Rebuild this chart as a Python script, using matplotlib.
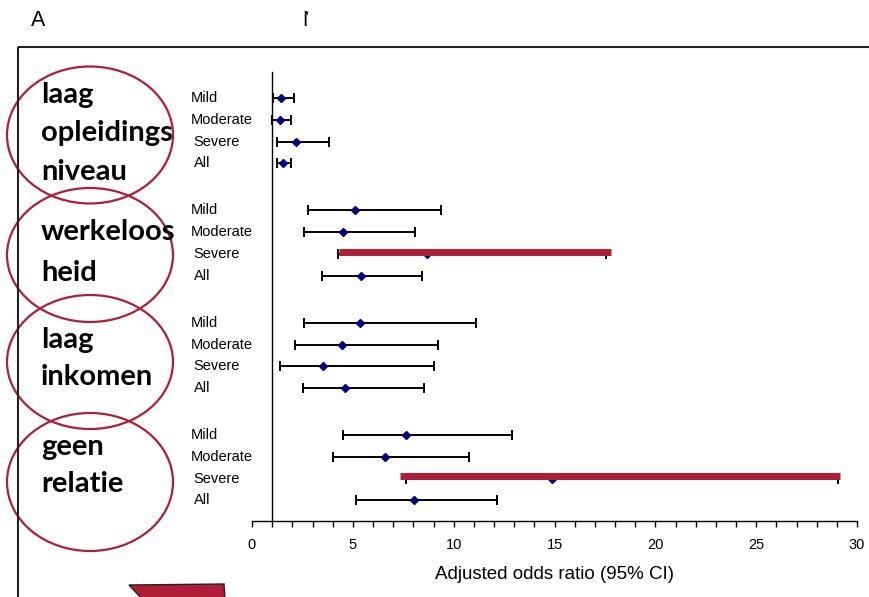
import matplotlib

matplotlib.use("Agg")

import matplotlib.pyplot as plt
import matplotlib.transforms as mtransforms
from matplotlib.patches import Ellipse, Polygon


GROUPS = [["laag", "opleidings", "niveau"], ["werkeloos", "heid"], ["laag", "inkomen"], ["geen", "relatie"]]
SEVERITY = ["Mild", "Moderate", "Severe", "All"]

# adjusted odds ratio, lower and upper 95% CI per group, in SEVERITY order
ODDS = [
    [1.46, 1.40, 2.20, 1.52],
    [5.11, 4.53, 8.68, 5.40],
    [5.35, 4.48, 3.50, 4.61],
    [7.66, 6.58, 14.86, 8.01],
]
LOWER = [
    [1.03, 0.98, 1.26, 1.26],
    [2.78, 2.58, 4.25, 3.47],
    [2.58, 2.15, 1.37, 2.51],
    [4.49, 4.00, 7.62, 5.18],
]
UPPER = [
    [2.08, 1.95, 3.80, 1.95],
    [9.39, 8.08, 17.55, 8.43],
    [11.09, 9.21, 9.02, 8.53],
    [12.90, 10.74, 29.07, 12.17],
]
# red highlight bars drawn over some rows: (group, row, start, end)
HIGHLIGHTS = [(1, 2, 4.33, 17.8), (3, 2, 7.36, 29.15)]

GROUP_STEP = 5.17
RED = "#AD1E37"
NAVY = "#00007F"


def main():
    W, H = 869, 597
    fig = plt.figure(figsize=(W / 100, H / 100), dpi=100)
    fig.patch.set_facecolor("white")

    # overlay in pixel coordinates for the slide decorations
    deco = fig.add_axes([0, 0, 1, 1])
    deco.set_xlim(0, W)
    deco.set_ylim(H, 0)
    deco.axis("off")
    deco.plot([18, W], [47, 47], color="#222222", lw=1.5, solid_capstyle="butt")
    deco.plot([18, 18], [47, H], color="#222222", lw=1.5, solid_capstyle="butt")

    for cy, h in zip([135, 255, 362, 482], [137, 134, 134, 138]):
        deco.add_patch(Ellipse((90, cy), 166, h, fill=False, edgecolor=RED, lw=1.6))

    deco.add_patch(
        Polygon([(129, 585), (224, 584), (225, H + 2), (142, H + 2)],
                closed=True, facecolor="#AF1D36", edgecolor="#222222", lw=1.0)
    )

    baselines = [[103, 141, 180], [240, 281], [348, 385], [455, 492]]
    for words, ys in zip(GROUPS, baselines):
        for word, y in zip(words, ys):
            deco.text(41, y, word, fontsize=21, fontweight="bold", family="Lato",
                      va="baseline", ha="left", color="black")

    # "A" and a partly hidden letter at top
    deco.text(31, 20, "A", fontsize=15.5, family="Liberation Sans", va="center", ha="left")
    n = deco.text(302, 20, "N", fontsize=15.5, family="Liberation Sans", va="center", ha="left")
    n.set_clip_box(mtransforms.TransformedBbox(
        mtransforms.Bbox.from_extents(0, 0, 308 / W, 1), fig.transFigure))
    n.set_clip_on(True)

    # main forest plot
    ax = fig.add_axes([252 / W, (H - 521) / H, (857 - 252) / W, (521 - 60) / H])
    ax.set_facecolor("none")
    ax.set_xlim(0, 30)
    ax.set_ylim(19.46, -1.75)
    for side in ["top", "right", "left"]:
        ax.spines[side].set_visible(False)
    ax.spines["bottom"].set_linewidth(1.0)
    ax.set_yticks([])
    ax.set_xticks(range(0, 31, 5))
    ax.set_xticks(range(0, 31), minor=True)
    ax.tick_params(axis="x", which="both", direction="out", length=4, width=1.0,
                   labelsize=10.5, pad=8)
    for lab in ax.get_xticklabels():
        lab.set_family("Liberation Sans")
    ax.set_xlabel("Adjusted odds ratio (95% CI)", fontsize=13.5, family="Liberation Sans",
                  labelpad=10)
    ax.plot([1, 1], [19.46, -1.2], color="black", lw=1.0, clip_on=False)

    label_tr = mtransforms.blended_transform_factory(fig.transFigure, ax.transData)
    label_x = [191, 191, 193, 194]
    for g in range(len(GROUPS)):
        for r, name in enumerate(SEVERITY):
            y = g * GROUP_STEP + r
            odds = ODDS[g][r]
            ax.errorbar(odds, y, xerr=[[odds - LOWER[g][r]], [UPPER[g][r] - odds]],
                        fmt="D", color=NAVY, ecolor="black", elinewidth=1.4,
                        capsize=3.8, capthick=1.4, markersize=3.6, zorder=3)
            ax.text(label_x[r] / W, y, name, transform=label_tr, fontsize=10.5,
                    family="Liberation Sans", va="center", ha="left")

    for g, r, start, end in HIGHLIGHTS:
        y = g * GROUP_STEP + r - 0.1
        ax.plot([start, end], [y, y], color=RED, lw=5, solid_capstyle="butt", zorder=4)

    fig.savefig("out.png", dpi=100, facecolor=fig.get_facecolor())
    plt.close(fig)


if __name__ == "__main__":
    main()
